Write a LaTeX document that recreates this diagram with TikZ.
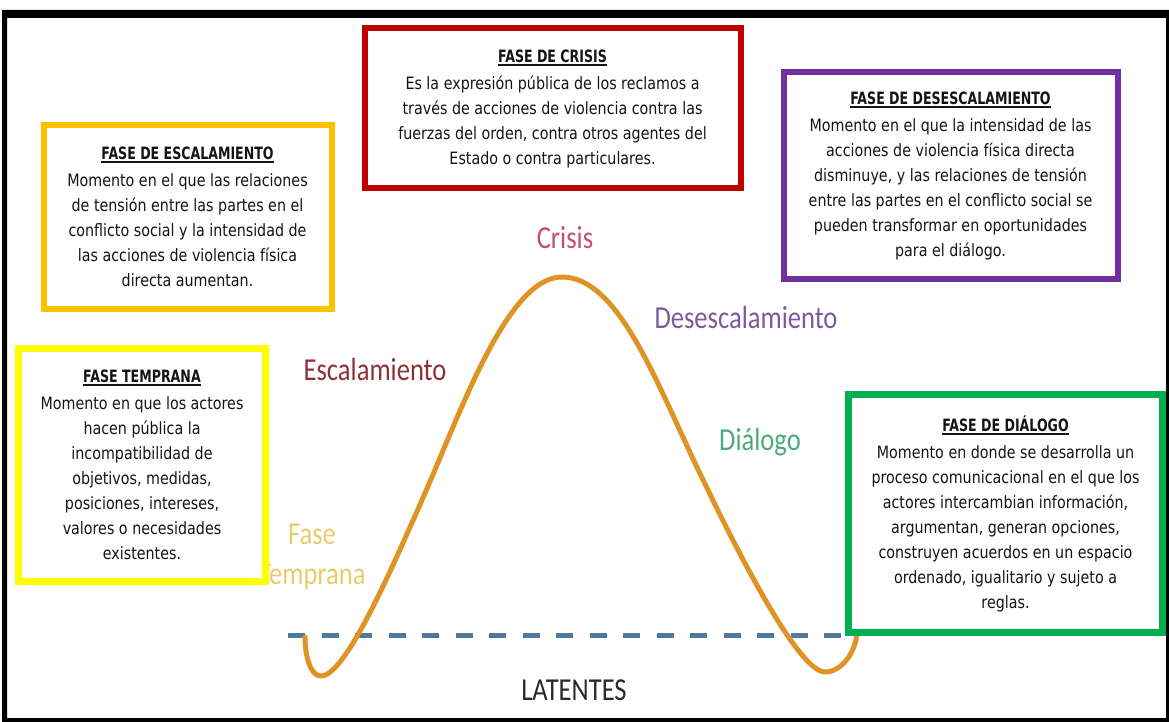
\documentclass[tikz,border=0pt]{standalone}
\usepackage{fontspec}
\setmainfont{DejaVu Sans}[FakeStretch=0.84]
\newfontfamily\ttlfont{DejaVu Sans}[FakeStretch=0.74]
\newfontfamily\lblfont{Carlito}[FakeStretch=0.83]
\definecolor{crisisred}{HTML}{C00000}
\definecolor{escorange}{HTML}{FFC000}
\definecolor{despurple}{HTML}{7030A0}
\definecolor{tempyellow}{HTML}{FFFF00}
\definecolor{dialgreen}{HTML}{00B050}
\definecolor{curvecol}{HTML}{DE9425}
\definecolor{dashcol}{HTML}{5079A2}
\definecolor{lblcrisis}{HTML}{C0506A}
\definecolor{lblesc}{HTML}{8E3038}
\definecolor{lbldes}{HTML}{7A5B9C}
\definecolor{lbldial}{HTML}{4BAA7A}
\definecolor{lbltemp}{HTML}{E8CC6C}
\definecolor{lbllat}{HTML}{2A2A2A}
\newcommand{\phasetitle}[1]{{\ttlfont\bfseries\setbox0=\hbox{#1}\rlap{\rule[-3.5pt]{\wd0}{1.8pt}}\box0}}
\tikzset{
  phase/.style={draw=#1, line width=6pt, fill=white, inner sep=0pt, align=center,
    font=\fontsize{17}{25}\selectfont, text=black!92},
  curvelbl/.style={font=\lblfont\fontsize{32}{40}\selectfont, text=#1, align=center, inner sep=0pt},
}
\begin{document}
\begin{tikzpicture}[x=1pt,y=-1pt]
\useasboundingbox (0,0) rectangle (1169,722);
% outer frame
\fill[black,even odd rule] (2,10) rectangle (1169,722) (7,18) rectangle (1166,718);

% curve labels
\node[curvelbl=lblcrisis] (lcrisis) at (565,238) {Crisis};
\node[curvelbl=lblesc] (lesc) at (375,370) {Escalamiento};
\node[curvelbl=lbldes] (ldes) at (746,318) {Desescalamiento};
\node[curvelbl=lbldial] (ldial) at (760,442) {Diálogo};
\node[curvelbl=lbltemp] (ltemp) at (312,557) {Fase\\Temprana};
\node[curvelbl=lbllat] (llat) at (574,690) {LATENTES};

% dashed baseline
\coordinate (dashL) at (288,635);
\coordinate (dashR) at (846,635);
\draw[dashcol, line width=5pt, dash pattern=on 17pt off 16.5pt] (dashL) -- (dashR);

% curve
\coordinate (cstart) at (305,637);
\coordinate (cmin1) at (321,676);
\coordinate (crise) at (422,500);
\coordinate (cpeak) at (562,277);
\coordinate (cfall) at (695,463);
\coordinate (cmin2) at (825,672);
\coordinate (cend) at (857,633);
\draw[curvecol, line width=5pt, line cap=round, line join=round]
  (cstart) .. controls (305,655) and (310,676) .. (cmin1)
  .. controls (346,676) and (393.7,564) .. (crise)
  .. controls (460.4,413.1) and (507,277) .. (cpeak)
  .. controls (617,277) and (654.3,377.1) .. (cfall)
  .. controls (720.7,517.2) and (795,672) .. (cmin2)
  .. controls (840,672) and (855,655) .. (cend);

% phase boxes
\node[phase=crisisred, minimum width=376pt, minimum height=160pt] (crisis) at (552.5,108.5)
  {\phasetitle{FASE DE CRISIS}\\[2pt]
   Es la expresión pública de los reclamos a\\
   través de acciones de violencia contra las\\
   fuerzas del orden, contra otros agentes del\\
   Estado o contra particulares.};
\node[phase=escorange, minimum width=288pt, minimum height=184pt] (esc) at (187.5,217)
  {\phasetitle{FASE DE ESCALAMIENTO}\\[2pt]
   Momento en el que las relaciones\\
   de tensión entre las partes en el\\
   conflicto social y la intensidad de\\
   las acciones de violencia física\\
   directa aumentan.};
\node[phase=despurple, minimum width=334pt, minimum height=206pt] (des) at (950.5,175.5)
  {\phasetitle{FASE DE DESESCALAMIENTO}\\[2pt]
   Momento en el que la intensidad de las\\
   acciones de violencia física directa\\
   disminuye, y las relaciones de tensión\\
   entre las partes en el conflicto social se\\
   pueden transformar en oportunidades\\
   para el diálogo.};
\node[phase=tempyellow, line width=7pt, minimum width=247pt, minimum height=233pt] (temp) at (142,465)
  {\phasetitle{FASE TEMPRANA}\\[2pt]
   Momento en que los actores\\
   hacen pública la\\
   incompatibilidad de\\
   objetivos, medidas,\\
   posiciones, intereses,\\
   valores o necesidades\\
   existentes.};
\node[phase=dialgreen, line width=7pt, minimum width=314pt, minimum height=238pt] (dial) at (1005.5,513.5)
  {\phasetitle{FASE DE DIÁLOGO}\\[2pt]
   Momento en donde se desarrolla un\\
   proceso comunicacional en el que los\\
   actores intercambian información,\\
   argumentan, generan opciones,\\
   construyen acuerdos en un espacio\\
   ordenado, igualitario y sujeto a\\
   reglas.};
\end{tikzpicture}
\end{document}
